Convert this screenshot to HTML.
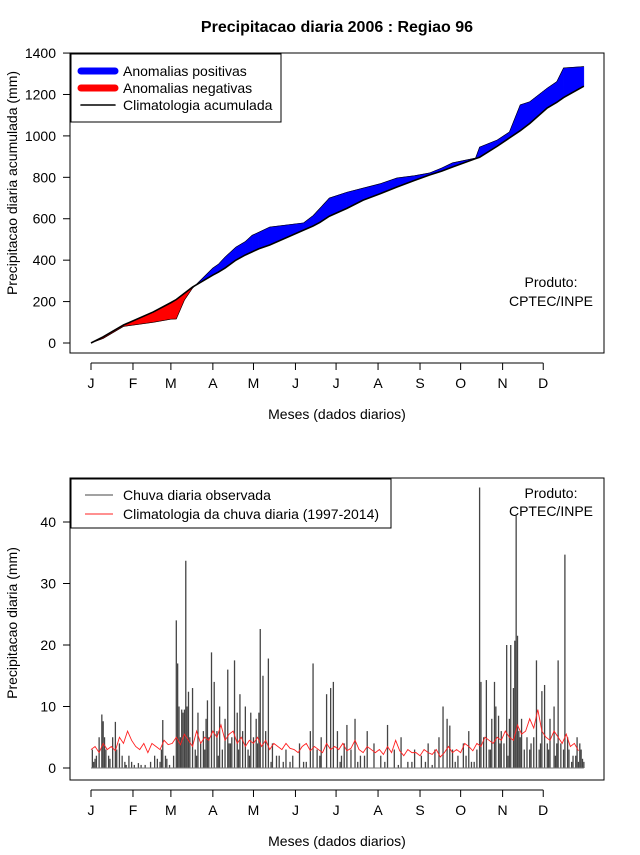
<!DOCTYPE html>
<html><head><meta charset="utf-8"><style>
body{margin:0;background:#fff;}
svg text{font-family:"Liberation Sans",sans-serif;fill:#000;}
</style></head><body>
<svg width="640" height="850" viewBox="0 0 640 850" xmlns="http://www.w3.org/2000/svg">
<g id="topchart"></g>
<g id="botchart"></g>
</svg>
<script>
// ---- cumulative chart data ----
const cumDays = [1,10,25,47,60,64,70,76,91,95,100,108,115,120,125,133,158,165,170,177,190,202,215,227,240,251,260,268,285,288,301,310,318,325,338,345,350,365];
const cumClim = [0,30,87,150,195,210,240,270,328,342,362,400,425,440,455,473,545,565,582,612,650,690,722,753,785,811,830,850,890,897,950,990,1025,1060,1135,1162,1185,1240];
const cumObs  = [0,22,80,100,115,116,207,265,362,380,415,463,490,520,535,560,580,615,650,700,728,748,770,797,808,821,845,870,893,946,980,1019,1150,1165,1231,1262,1328,1335];
const cumTicks = [0,200,400,600,800,1000,1200,1400];
const monthLabels = ["J","F","M","A","M","J","J","A","S","O","N","D"];
const monthStart = [1,32,60,91,121,152,182,213,244,274,305,335];
// ---- daily chart data ----
const obsDays = [
 2,4,7,9,10,11,12,14,17,19,
 20,22,24,26,29,33,38,45,48,50,
 53,54,56,59,62,64,65,66,67,68,
 69,70,71,72,73,74,76,78,80,82,
 84,86,87,88,90,92,94,96,98,100,
 102,104,105,107,109,111,113,115,117,119,
 121,123,125,126,128,130,132,135,140,145,
 150,155,160,163,165,168,171,175,178,180,
 183,186,188,190,193,196,200,205,210,215,
 220,225,230,235,240,245,250,255,258,261,
 264,266,268,272,276,280,284,286,288,289,
 291,293,295,297,299,300,302,304,306,308,
 310,311,313,314,315,316,317,319,321,323,
 326,328,330,332,334,336,338,340,343,345,
 346,348,351,354,357,360,362,364,
 3,5,15,27,31,36,41,52,57,79,
 85,95,103,110,118,124,134,138,143,148,
 158,170,185,198,203,218,228,238,248,253,
 270,278,282,296,303,309,318,325,333,339,
 344,350,353,356,359,361,363,365];
const obsVals = [
 3,1.5,5,8.7,7.6,5,3,2,5,7.5,
 3,4,2,1,2,0.5,0.5,1,2,1.5,
 3,7.8,2,0.5,2,24,17,10,5,9.5,
 9,9.5,33.7,10,12.4,5,13,3,9,4,
 6,8,11,5,18.8,14,6,10,3,8,
 16,4,5,17.5,9,12,6,10,3,9,
 5,8,9,22.6,15,6,17.8,4,2,3,
 2,4,1,6,17,3,5,12,13,14,
 6,2,4,7,3,8,2,6,4,2,
 7,3,5,1,3,2,4,3,5,10,
 8,6.9,3,2,4,6,1,3,45.6,14,
 5,14.3,3,8,14,10,8.5,6,4,20,
 8,20,13,20.7,41,21.5,6,8,3,5,
 4,5,17.5,3,12.5,13.5,4,8,10,4,
 17.5,4,34.7,3,2,5,4,1.5,
 1,2,1.5,0.5,1,0.8,0.5,1,1.5,2,
 3,2,4,3,2,4,1,2,1,1,
 1,2,1,1,2,1,0.5,1,1,0.5,
 1,2,1,3,4,2,5,3,4,3,
 2,3,5,1,2,1,3,1];
const climStep = 3;
const climVals = [3,3.5,2.5,4,3,3.5,2.8,5,4,6,4.5, 3.5,3,4,2.5,4,3.5,3,4.5,3.8, 4,5,3.8,5.5,4.5,3.5,6,4,5,4.5, 6,5,7,4.5,5.5,6,4,5,3.5,4.5, 4,5,3.5,4.5,3,4,3.5,3,4,3.2, 3,2.5,3.5,4,2.8,3.5,3,2.5,4,3, 3.5,3,4,2.8,3.2,4.5,3,2.5,3.5,3, 2.5,3,2.2,3.5,2.5,4.5,2.8,2,3,2.5, 2.5,2,3,2.5,2.2,3,1.8,2.5,3.5,2.5, 3,2.5,4,3.5,2.8,4,3.5,5,4.5,4, 5,4.5,6,5,4.5,7,5.5,6,8,6.5, 9.5,6,5,4.5,6,5,4,5.5,3.5,4,2.8];
const dailyTicks = [0,10,20,30,40];

const NS="http://www.w3.org/2000/svg";
function mk(parent,tag,attrs,text){const e=document.createElementNS(NS,tag);for(const k in attrs)e.setAttribute(k,attrs[k]);if(text!==undefined)e.textContent=text;parent.appendChild(e);return e;}
const xDay = d => 91 + (d-1)*1.354;
const yTop = v => 343 - v*0.2071;
const yBot = v => 768 - v*6.15;

function frame(g,y0,y1,yScale,ticks,ylabel,ly){
  const f=mk(g,'rect',{x:70,y:y0,width:534,height:y1-y0,fill:'none',stroke:'#000','stroke-width':1});
  
  
  const ax=mk(g,'g',{});
  
  
  mk(ax,'line',{x1:70,x2:70,y1:yScale(ticks[0]),y2:yScale(ticks[ticks.length-1]),stroke:'#000'});
  ticks.forEach(t=>{const y=yScale(t);mk(ax,'line',{x1:63,x2:70,y1:y,y2:y,stroke:'#000'});
    const tl=mk(ax,'text',{x:56,y:y+5,'text-anchor':'end','font-size':14},t);
    
    });
  const yt=mk(g,'text',{x:17,y:ly,'text-anchor':'middle','font-size':14,transform:`rotate(-90 17 ${ly})`},ylabel);
  
  
  const xa=mk(g,'g',{});
  
  
  const by=y1;
  mk(xa,'line',{x1:xDay(monthStart[0]),x2:xDay(monthStart[11]),y1:by+10,y2:by+10,stroke:'#000'});
  monthStart.forEach((d,i)=>{const x=xDay(d);mk(xa,'line',{x1:x,x2:x,y1:by+10,y2:by+17,stroke:'#000'});
    const ml=mk(xa,'text',{x:x,y:by+35,'text-anchor':'middle','font-size':14},monthLabels[i]);
    
    });
  const xt=mk(g,'text',{x:337,y:by+66,'text-anchor':'middle','font-size':14},'Meses (dados diarios)');
  
  
}

// ---- top chart ----
const topG=document.getElementById('topchart');
const tt=mk(topG,'text',{x:337,y:32,'text-anchor':'middle','font-size':16,'font-weight':'bold'},'Precipitacao diaria 2006 : Regiao 96');


frame(topG,53,353,yTop,cumTicks,'Precipitacao diaria acumulada (mm)',183);
const fills=mk(topG,'g',{});


function quad(d0,o0,c0,d1,o1,c1){
  const col=((o0-c0)+(o1-c1))>=0?'#0000ff':'#ff0000';
  const p=`${xDay(d0)},${yTop(o0)} ${xDay(d1)},${yTop(o1)} ${xDay(d1)},${yTop(c1)} ${xDay(d0)},${yTop(c0)}`;
  const q=mk(fills,'polygon',{points:p,fill:col,stroke:col,'stroke-width':0.5});
  
  
}
for(let i=0;i<cumDays.length-1;i++){
  const a0=cumObs[i]-cumClim[i],a1=cumObs[i+1]-cumClim[i+1];
  if(a0*a1<0){const t=a0/(a0-a1);const dm=cumDays[i]+t*(cumDays[i+1]-cumDays[i]);const cm=cumClim[i]+t*(cumClim[i+1]-cumClim[i]);
    quad(cumDays[i],cumObs[i],cumClim[i],dm,cm,cm);quad(dm,cm,cm,cumDays[i+1],cumObs[i+1],cumClim[i+1]);}
  else quad(cumDays[i],cumObs[i],cumClim[i],cumDays[i+1],cumObs[i+1],cumClim[i+1]);
}
const ol=mk(topG,'polyline',{points:cumDays.map((d,i)=>`${xDay(d)},${yTop(cumObs[i])}`).join(' '),fill:'none',stroke:'#000','stroke-width':0.6});


const cl=mk(topG,'polyline',{points:cumDays.map((d,i)=>`${xDay(d)},${yTop(cumClim[i])}`).join(' '),fill:'none',stroke:'#000','stroke-width':1.6});


const lg=mk(topG,'g',{});


mk(lg,'rect',{x:71,y:54,width:210,height:68,fill:'#fff',stroke:'#000'});
[['#0000ff',7,'Anomalias positivas'],['#ff0000',7,'Anomalias negativas'],['#000',1.6,'Climatologia acumulada']].forEach((e,i)=>{
  const y=71+i*17;const it=mk(lg,'g',{});
  
  
  mk(it,'line',{x1:81,x2:115,y1:y,y2:y,stroke:e[0],'stroke-width':e[1],'stroke-linecap':'round'});
  mk(it,'text',{x:123,y:y+5,'font-size':14},e[2]);});
const p1=mk(topG,'text',{x:551,y:287,'text-anchor':'middle','font-size':14},'Produto:');


mk(topG,'text',{x:551,y:306,'text-anchor':'middle','font-size':14},'CPTEC/INPE');

// ---- bottom chart ----
const botG=document.getElementById('botchart');
frame(botG,478,780,yBot,dailyTicks,'Precipitacao diaria (mm)',623);
const bars=mk(botG,'g',{});


const nBars=Math.min(obsDays.length,obsVals.length);
for(let i=0;i<nBars;i++){const x=xDay(obsDays[i]);
  const b=mk(bars,'line',{x1:x,x2:x,y1:yBot(0),y2:yBot(obsVals[i]),stroke:'#444','stroke-width':1.3});
  
  }
mk(bars,'line',{x1:xDay(1),x2:xDay(365),y1:yBot(0),y2:yBot(0),stroke:'#777','stroke-width':1});
const rl=mk(botG,'polyline',{points:climVals.map((v,i)=>`${xDay(1+i*climStep)},${yBot(v)}`).join(' '),fill:'none',stroke:'#ff2020','stroke-width':0.9});


const lg2=mk(botG,'g',{});


mk(lg2,'rect',{x:71,y:479,width:320,height:49,fill:'#fff',stroke:'#000'});
[['#444','Chuva diaria observada'],['#ff2020','Climatologia da chuva diaria (1997-2014)']].forEach((e,i)=>{
  const y=495+i*19;const it=mk(lg2,'g',{});
  
  
  mk(it,'line',{x1:85,x2:113,y1:y,y2:y,stroke:e[0],'stroke-width':1});
  mk(it,'text',{x:123,y:y+5,'font-size':14},e[1]);});
const p2=mk(botG,'text',{x:551,y:498,'text-anchor':'middle','font-size':14},'Produto:');


mk(botG,'text',{x:551,y:516,'text-anchor':'middle','font-size':14},'CPTEC/INPE');
</script>
</body></html>
